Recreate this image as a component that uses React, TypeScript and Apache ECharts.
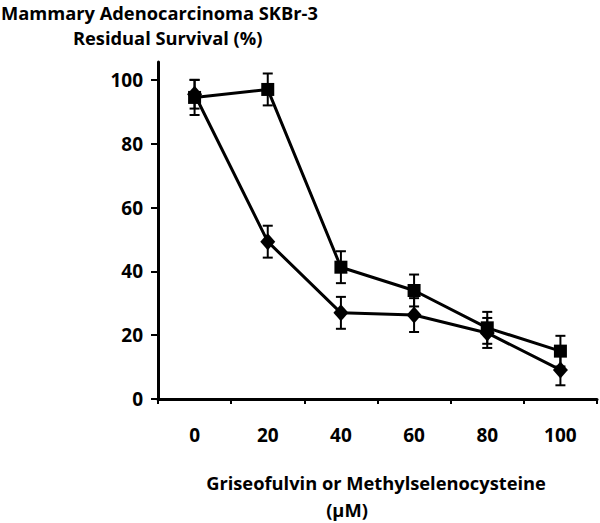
import React, { useEffect, useRef } from "react";
import * as echarts from "echarts";

const categories = ["0", "20", "40", "60", "80", "100"];
const squareValues = [94.5, 97, 41.3, 34, 22.3, 15];
const squareErrors = [5.5, 5, 5, 5, 5, 4.8];
const diamondValues = [95.5, 49.3, 27, 26.3, 20.7, 9.1];
const diamondErrors = [4.5, 5, 5, 5.3, 4.7, 4.8];
const yTicks = [0, 20, 40, 60, 80, 100];

const titleLine1 = "Mammary Adenocarcinoma SKBr-3";
const titleLine2 = "Residual Survival (%)";
const xNameLine1 = "Griseofulvin or Methylselenocysteine";
const xNameLine2 = "(\u03bcM)";

const FONT = "'Open Sans', 'DejaVu Sans', sans-serif";

function errorData(values: number[], errors: number[]) {
  return values.map((v, i) => [i, v - errors[i], v + errors[i]]);
}

function renderError(params: any, api: any) {
  const idx = api.value(0);
  const lo = api.coord([idx, api.value(1)]);
  const hi = api.coord([idx, api.value(2)]);
  const half = 5;
  const style = { stroke: "#000", lineWidth: 2 };
  return {
    type: "group",
    children: [
      { type: "line", shape: { x1: lo[0], y1: lo[1], x2: hi[0], y2: hi[1] }, style },
      { type: "line", shape: { x1: hi[0] - half, y1: hi[1], x2: hi[0] + half, y2: hi[1] }, style },
      { type: "line", shape: { x1: lo[0] - half, y1: lo[1], x2: lo[0] + half, y2: lo[1] }, style },
    ],
  };
}

export default function App() {
  const ref = useRef<HTMLDivElement>(null);
  useEffect(() => {
    if (!ref.current) return;
    const chart = echarts.init(ref.current, null, { renderer: "svg" });
    const textStyle = { fontFamily: FONT, fontWeight: "bold", fontSize: 18.3, fill: "#000" };
    chart.setOption({
      animation: false,
      backgroundColor: "#fff",
      grid: { left: 158, right: 3, top: 62, bottom: 124, containLabel: false },
      xAxis: {
        type: "category",
        data: categories,
        boundaryGap: true,
        axisLine: { lineStyle: { color: "#000", width: 3 } },
        axisTick: { show: true, length: 5, lineStyle: { color: "#000", width: 2 } },
        axisLabel: { color: "#000", fontFamily: FONT, fontWeight: "bold", fontSize: 19, margin: 26 },
        splitLine: { show: false },
      },
      yAxis: {
        type: "value",
        min: 0,
        max: 105.6,
        interval: 20,
        axisLine: { show: true, lineStyle: { color: "#000", width: 3 } },
        axisTick: { show: true, length: 7, customValues: yTicks, lineStyle: { color: "#000", width: 2 } },
        axisLabel: {
          color: "#000",
          fontFamily: FONT,
          fontWeight: "bold",
          fontSize: 19,
          margin: 15,
          customValues: yTicks,
        },
        splitLine: { show: false },
      },
      series: [
        {
          type: "custom",
          name: "Square error",
          renderItem: renderError,
          data: errorData(squareValues, squareErrors),
          encode: { x: 0, y: [1, 2] },
          z: 1,
        },
        {
          type: "custom",
          name: "Diamond error",
          renderItem: renderError,
          data: errorData(diamondValues, diamondErrors),
          encode: { x: 0, y: [1, 2] },
          z: 1,
        },
        {
          type: "line",
          name: "Square",
          data: squareValues,
          symbol: "rect",
          symbolSize: 13,
          lineStyle: { color: "#000", width: 3 },
          itemStyle: { color: "#000" },
          z: 3,
        },
        {
          type: "line",
          name: "Diamond",
          data: diamondValues,
          symbol: "diamond",
          symbolSize: [15, 17],
          lineStyle: { color: "#000", width: 3 },
          itemStyle: { color: "#000" },
          z: 3,
        },
      ],
      graphic: [
        { type: "text", left: 1, top: 3, style: { ...textStyle, text: titleLine1 } },
        { type: "text", left: 73, top: 28, style: { ...textStyle, text: titleLine2 } },
        {
          type: "text",
          x: 376,
          y: 482,
          style: { ...textStyle, text: xNameLine1, align: "center", verticalAlign: "middle" },
        },
        {
          type: "text",
          x: 347,
          y: 509,
          style: { ...textStyle, text: xNameLine2, align: "center", verticalAlign: "middle" },
        },
      ],
    });
    return () => chart.dispose();
  }, []);
  return (
    <div
      ref={ref}
      style={{ position: "absolute", left: 0, top: 0, width: 600, height: 523 }}
    />
  );
}
